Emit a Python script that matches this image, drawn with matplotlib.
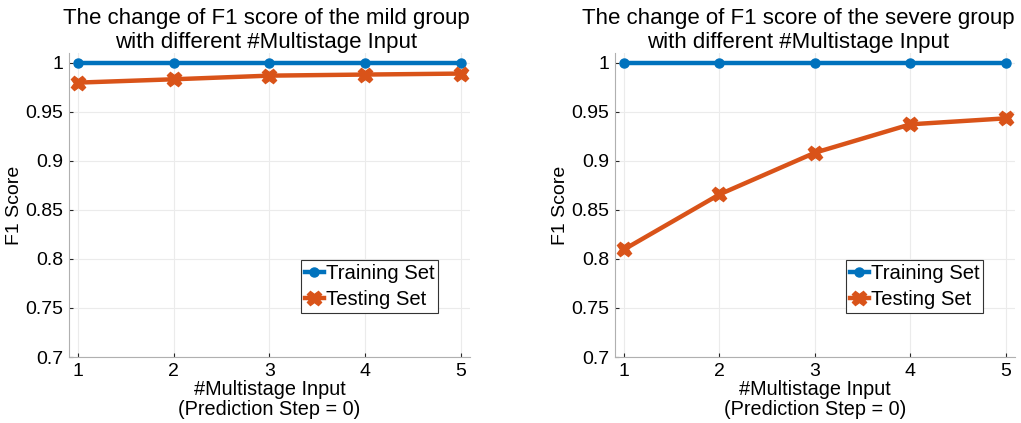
import numpy as np
import matplotlib.pyplot as plt

plt.rcParams['font.family'] = ['Liberation Sans', 'DejaVu Sans']

steps = [1, 2, 3, 4, 5]
mild_train = [1.0, 1.0, 1.0, 1.0, 1.0]
mild_test = [0.9796, 0.983, 0.9867, 0.9878, 0.9888]
severe_train = [1.0, 1.0, 1.0, 1.0, 1.0]
severe_test = [0.8096, 0.8657, 0.9082, 0.9371, 0.9432]
yticks = [0.7, 0.75, 0.8, 0.85, 0.9, 0.95, 1.0]
ytick_labels = ['0.7', '0.75', '0.8', '0.85', '0.9', '0.95', '1']
titles = ['The change of F1 score of the mild group\nwith different #Multistage Input',
          'The change of F1 score of the severe group\nwith different #Multistage Input']

blue = '#0072BD'
orange = '#D95319'

fig = plt.figure(figsize=(10.21, 4.23), dpi=100)
positions = [[0.0676, 0.156, 0.3927, 0.719], [0.6024, 0.156, 0.3916, 0.719]]
title_x = [0.492, 0.458]  # right title is nudged left to stay inside the figure
data = [(mild_train, mild_test), (severe_train, severe_test)]

for pos, (tr, te), title, tx in zip(positions, data, titles, title_x):
    ax = fig.add_axes(pos)
    ax.plot(steps, tr, color=blue, lw=3.2, marker='o', ms=6.5, label='Training Set')
    ax.plot(steps, te, color=orange, lw=3.2, marker='X', ms=10.5, label='Testing Set')
    ax.set_xlim(0.906, 5.094)
    ax.set_ylim(0.7, 1.0099)
    ax.set_xticks(steps)
    ax.set_yticks(yticks)
    ax.set_yticklabels(ytick_labels)
    ax.tick_params(direction='in', length=3, labelsize=14, colors='#262626',
                   labelcolor='black', pad=4)
    ax.grid(True, color='#ebebeb', lw=0.8)
    for s in ['top', 'right']:
        ax.spines[s].set_visible(False)
    for s in ['left', 'bottom']:
        ax.spines[s].set_color('#b0b0b0')
    ax.set_xlabel('#Multistage Input\n(Prediction Step = 0)', fontsize=14.3,
                  labelpad=0, linespacing=1.12)
    ax.set_ylabel('F1 Score', fontsize=14, labelpad=2)
    ax.set_title(title, fontsize=16, pad=3, linespacing=1.18, x=tx)
    leg = ax.legend(loc='lower right', bbox_to_anchor=(0.921, 0.145), fontsize=14.6,
                    fancybox=False, framealpha=1, edgecolor='#333333',
                    handlelength=0.9, handletextpad=0.1, borderpad=0.2,
                    labelspacing=0.35, borderaxespad=0)
    leg.get_frame().set_linewidth(0.8)

fig.savefig('out.png', dpi=100)
